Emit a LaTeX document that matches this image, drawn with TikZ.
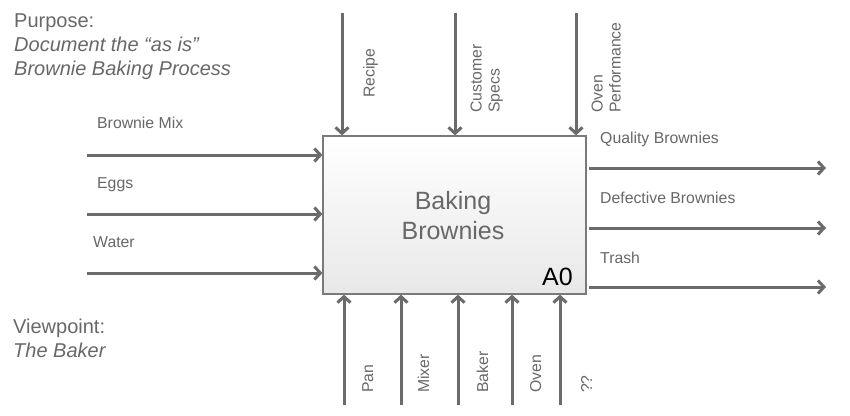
\documentclass[tikz,border=0pt]{standalone}
\usepackage{fontspec}
\setmainfont{Liberation Sans}
\usetikzlibrary{arrows.meta}
\definecolor{arrowgray}{HTML}{6B6B6B}
\definecolor{textgray}{HTML}{686868}
\definecolor{boxgray}{HTML}{7A7A7A}
\tikzset{
  flow/.style={draw=arrowgray, line width=3pt, -{Straight Barb[length=6pt,width=13pt]}},
  lbl/.style={text=textgray, inner sep=0pt, font=\fontsize{15.8}{18}\selectfont},
  vlbl/.style={lbl, rotate=90},
  note/.style={text=textgray, inner sep=0pt, font=\fontsize{20}{23.8}\selectfont, align=left, anchor=base west},
}
\begin{document}
\begin{tikzpicture}[x=1pt,y=-1pt]
\path[use as bounding box, fill=white] (0,0) rectangle (850,415);

% main box
\node[draw=boxgray, line width=1.2pt, top color=white, bottom color=black!9,
      minimum width=263pt, minimum height=158pt, inner sep=0pt] (box) at (454.5,215) {};
\node[text=textgray, inner sep=0pt, align=center, font=\fontsize{25}{30}\selectfont] (title) at (453,216) {Baking\\Brownies};
\node[inner sep=0pt, anchor=base west, font=\fontsize{25}{30}\selectfont] (a0) at (542,285) {A0};

% purpose / viewpoint (base west = baseline of last line)
\node[note] (purpose) at (14,75) {Purpose:\\\itshape Document the “as is”\\\itshape Brownie Baking Process};
\node[note] (viewpoint) at (13,357) {Viewpoint:\\\itshape The Baker};

% inputs
\coordinate (in1) at (87,155);
\coordinate (in2) at (87,214);
\coordinate (in3) at (87,273);
\draw[flow] (in1) -- (in1 -| box.west);
\draw[flow] (in2) -- (in2 -| box.west);
\draw[flow] (in3) -- (in3 -| box.west);
\node[lbl, anchor=base west] (l-mix) at (97,128) {Brownie Mix};
\node[lbl, anchor=base west] (l-eggs) at (97,188) {Eggs};
\node[lbl, anchor=base west] (l-water) at (93,247) {Water};

% outputs
\coordinate (out1s) at (589,168);
\coordinate (out2s) at (589,228);
\coordinate (out3s) at (589,287);
\coordinate (out1) at (826,168);
\coordinate (out2) at (826,228);
\coordinate (out3) at (826,287);
\draw[flow] (out1s) -- (out1);
\draw[flow] (out2s) -- (out2);
\draw[flow] (out3s) -- (out3);
\node[lbl, anchor=base west] (l-quality) at (600,143) {Quality Brownies};
\node[lbl, anchor=base west] (l-defective) at (600,203) {Defective Brownies};
\node[lbl, anchor=base west] (l-trash) at (600,263) {Trash};

% controls
\coordinate (c1) at (342,13);
\coordinate (c2) at (455,13);
\coordinate (c3) at (576,13);
\draw[flow] (c1) -- (c1 |- box.north);
\draw[flow] (c2) -- (c2 |- box.north);
\draw[flow] (c3) -- (c3 |- box.north);
\node[vlbl, anchor=south west] (l-recipe) at (378,98) {Recipe};
\node[vlbl, anchor=south west, align=left] (l-specs) at (503,113) {Customer\\Specs};
\node[vlbl, anchor=south west, align=left] (l-oven) at (621,113) {Oven\\Performance};

% mechanisms
\coordinate (m1) at (344,405);
\coordinate (m2) at (401,405);
\coordinate (m3) at (458,405);
\coordinate (m4) at (512,405);
\coordinate (m5) at (560,405);
\draw[flow] (m1) -- (m1 |- box.south);
\draw[flow] (m2) -- (m2 |- box.south);
\draw[flow] (m3) -- (m3 |- box.south);
\draw[flow] (m4) -- (m4 |- box.south);
\draw[flow] (m5) -- (m5 |- box.south);
\node[vlbl, anchor=base west] (l-pan) at (373,393) {Pan};
\node[vlbl, anchor=base west] (l-mixer) at (429,393) {Mixer};
\node[vlbl, anchor=base west] (l-baker) at (488,393) {Baker};
\node[vlbl, anchor=base west] (l-ovenm) at (541,393) {Oven};
\node[vlbl, anchor=base west] (l-qq) at (592,393) {??};
\end{tikzpicture}
\end{document}
